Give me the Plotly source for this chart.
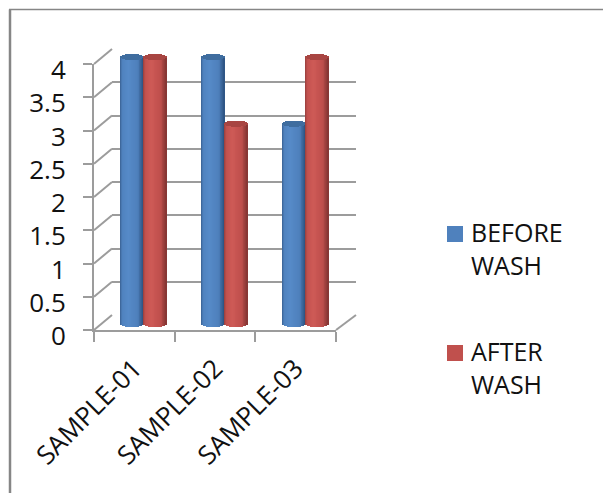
import math
import plotly.graph_objects as go

categories = ["SAMPLE-01", "SAMPLE-02", "SAMPLE-03"]
before_wash = [4, 4, 3]
after_wash = [4, 3, 4]
y_ticks = [0, 0.5, 1, 1.5, 2, 2.5, 3, 3.5, 4]
y_labels = ["0", "0.5", "1", "1.5", "2", "2.5", "3", "3.5", "4"]
legend_labels = ["BEFORE<br>WASH", "AFTER<br>WASH"]

W, H = 603, 493
GRID = "#9c9c9c"
FRAME = "#868686"
FONT = "Open Sans"
FS = 25
INK = "#111111"


def px(a, b):
    return [a / W, b / W]


def py(top, bottom):
    return [1 - bottom / H, 1 - top / H]


def mix(c1, c2, t):
    return "rgb(%d,%d,%d)" % tuple(round(a + (b - a) * t) for a, b in zip(c1, c2))


def shade(dark_l, mid, light, dark_r, t):
    if t < 0.08:
        return mix(dark_l, mid, t / 0.08)
    if t < 0.35:
        return mix(mid, light, (t - 0.08) / 0.27)
    if t < 0.72:
        return mix(light, mid, (t - 0.35) / 0.37)
    return mix(mid, dark_r, ((t - 0.72) / 0.28) ** 1.4)


N = 26
half = 0.142  # half cylinder width in category units
ARC = 0.045  # ellipse half height in value units


def cylinder_traces(values, name, centre, pal, cap):
    xs, bases, heights, colors = [], [], [], []
    cx, cb, ch = [], [], []
    for i, v in enumerate(values):
        for k in range(N):
            t = (k + 0.5) / N
            u = 2 * t - 1
            arc = ARC * math.sqrt(max(0, 1 - u * u))
            x = i + centre + u * half
            xs.append(x)
            bases.append(-arc)
            heights.append(v + arc)
            colors.append(shade(*pal, t))
            cx.append(x)
            cb.append(v - arc)
            ch.append(2 * arc)
    w = 2 * half / N * 1.15
    body = go.Bar(x=xs, y=heights, base=bases, width=w, xaxis="x4", yaxis="y3",
                  marker=dict(color=colors, line=dict(width=0)), showlegend=False,
                  hoverinfo="skip", name=name)
    top = go.Bar(x=cx, y=ch, base=cb, width=w, xaxis="x4", yaxis="y3",
                 marker=dict(color=cap, line=dict(width=0)), showlegend=False,
                 hoverinfo="skip", name=name)
    return [body, top]


blue = ((56, 96, 145), (79, 129, 189), (86, 138, 200), (44, 82, 128))
red = ((150, 62, 60), (192, 80, 77), (206, 90, 86), (130, 52, 50))

fig = go.Figure()

for xa, ya in (("x", "y"), ("x2", "y2"), ("x3", "y2")):
    fig.add_trace(go.Scatter(x=[0], y=[0], xaxis=xa, yaxis=ya, mode="markers",
                             marker=dict(opacity=0), showlegend=False, hoverinfo="skip"))

for t in cylinder_traces(before_wash, "BEFORE WASH", -half, blue, "#3f6d9f"):
    fig.add_trace(t)
for t in cylinder_traces(after_wash, "AFTER WASH", half, red, "#a84542"):
    fig.add_trace(t)

shapes = [
    dict(type="line", xref="paper", yref="paper", x0=10 / W, x1=10 / W, y0=0, y1=1 - 9.5 / H,
         line=dict(color=FRAME, width=2.5)),
    dict(type="line", xref="paper", yref="paper", x0=9 / W, x1=1, y0=1 - 9.5 / H, y1=1 - 9.5 / H,
         line=dict(color=FRAME, width=1.5)),
    dict(type="line", xref="paper", yref="paper", x0=336 / W, x1=356 / W, y0=1 - 330 / H, y1=1 - 315 / H,
         line=dict(color=GRID, width=2)),
]
for v in y_ticks:
    yy = 330 - v * 66.5
    shapes.append(dict(type="line", xref="paper", yref="paper", x0=94 / W, x1=112 / W,
                       y0=1 - yy / H, y1=1 - (yy - 15) / H, line=dict(color=GRID, width=2)))

annotations = []
for label, color, top in zip(legend_labels, ("#4f81bd", "#c0504d"), (226, 345)):
    shapes.append(dict(type="rect", xref="paper", yref="paper", x0=447 / W, x1=463 / W,
                       y0=1 - (top + 16) / H, y1=1 - top / H, fillcolor=color, line=dict(width=0)))
    annotations.append(dict(xref="paper", yref="paper", x=469 / W, y=1 - (top - 13) / H, text=label,
                            showarrow=False, xanchor="left", yanchor="top", align="left",
                            font=dict(family=FONT, size=FS, color=INK)))

EXT = 0.15  # value-axis headroom so that the elliptical ends stay visible
PX_PER_UNIT = (324 - 57) / 4

fig.update_layout(
    width=W, height=H, autosize=False,
    margin=dict(l=0, r=0, t=0, b=0),
    paper_bgcolor="white", plot_bgcolor="rgba(0,0,0,0)",
    barmode="overlay", bargap=0, showlegend=False,
    font=dict(family=FONT, size=FS, color=INK),
    shapes=shapes, annotations=annotations,
    xaxis=dict(domain=px(112, 356), range=[0, 1], anchor="y", showgrid=False, zeroline=False,
               showticklabels=False, ticks="", showline=False, automargin=False),
    yaxis=dict(domain=py(49, 315), range=[0, 4], anchor="x", tickvals=y_ticks, showgrid=True,
               gridcolor=GRID, gridwidth=2, zeroline=False, showticklabels=False, ticks="", showline=False,
               automargin=False),
    xaxis2=dict(domain=px(94, 336), range=[-0.5, 2.5], anchor="y2", tickvals=[-0.5, 0.5, 1.5, 2.5],
                showticklabels=False, ticks="outside", ticklen=10, tickwidth=2, tickcolor=GRID,
                showline=True, linecolor=GRID, linewidth=2, showgrid=False, zeroline=False, automargin=False),
    xaxis3=dict(domain=px(94, 336), range=[-0.5, 2.5], anchor="y2", overlaying="x2",
                tickmode="array", tickvals=[0, 1, 2], ticktext=categories, tickangle=-45,
                ticks="", ticklabelstandoff=17, showline=False, showgrid=False, zeroline=False, automargin=False,
                tickfont=dict(family=FONT, size=26, color=INK)),
    yaxis2=dict(domain=py(64, 330), range=[0, 4], anchor="x2", tickvals=y_ticks, ticktext=y_labels,
                ticks="outside", ticklen=9, tickwidth=2, tickcolor=GRID, showline=True, linecolor=GRID,
                linewidth=2, showgrid=False, zeroline=False, ticklabelstandoff=12, ticklabelshift=6, automargin=False,
                tickfont=dict(family=FONT, size=26, color=INK)),
    xaxis4=dict(domain=px(102.5, 345.5), range=[-0.5, 2.5], anchor="y3", visible=False, automargin=False),
    yaxis3=dict(domain=py(57 - EXT * PX_PER_UNIT, 324 + EXT * PX_PER_UNIT), range=[-EXT, 4 + EXT],
                anchor="x4", visible=False, automargin=False),
)

fig.write_html("out.html", post_script="document.body.style.margin='0';",
               config=dict(displayModeBar=False))
